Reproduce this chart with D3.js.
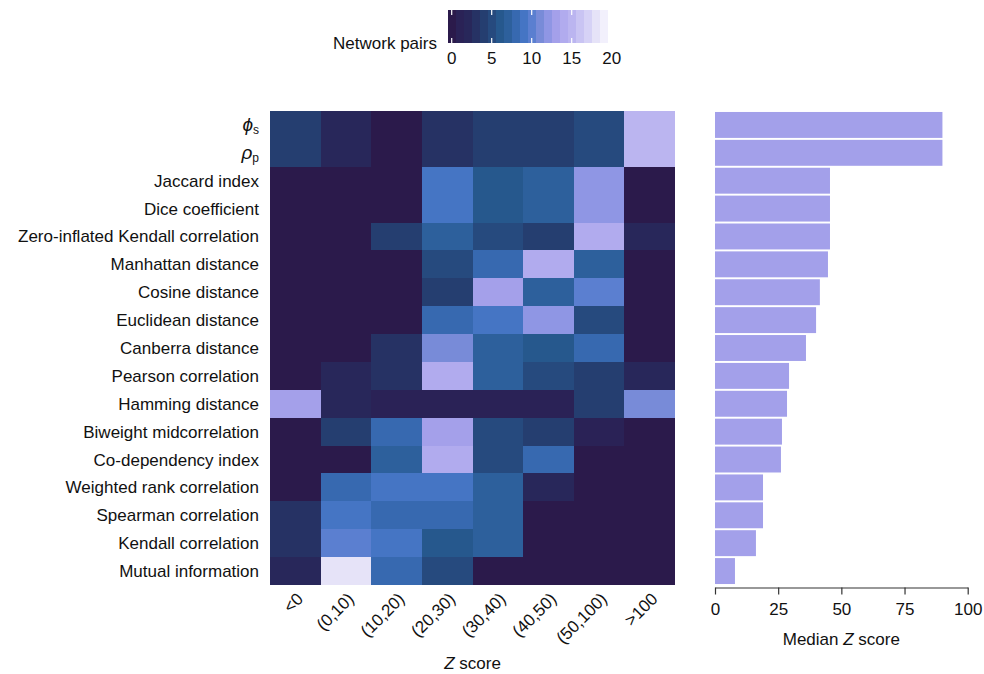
<!DOCTYPE html>
<html>
<head>
<meta charset="utf-8">
<script src="https://cdn.jsdelivr.net/npm/d3@7"></script>
<style>
  html, body { margin: 0; padding: 0; background: #fff; }
  svg { display: block; font-family: "Liberation Sans", Arial, Helvetica, sans-serif; }
</style>
</head>
<body>
<svg id="chart" width="984" height="674"></svg>
<script>
// Similarity measures (rows, top to bottom)
const measures = [
  "phi_s", "rho_p", "Jaccard index", "Dice coefficient",
  "Zero-inflated Kendall correlation", "Manhattan distance", "Cosine distance",
  "Euclidean distance", "Canberra distance", "Pearson correlation",
  "Hamming distance", "Biweight midcorrelation", "Co-dependency index",
  "Weighted rank correlation", "Spearman correlation", "Kendall correlation",
  "Mutual information"
];

// Z score bins (columns)
const zBins = ["<0", "(0,10)", "(10,20)", "(20,30)", "(30,40)", "(40,50)", "(50,100)", ">100"];

// Number of network pairs falling in each Z score bin, one row per measure
const pairCounts = [
  [4, 2, 0, 3, 4, 4, 5, 15],
  [4, 2, 0, 3, 4, 4, 5, 15],
  [0, 0, 0, 9, 6, 7, 12, 0],
  [0, 0, 0, 9, 6, 7, 12, 0],
  [0, 0, 4, 7, 5, 4, 14, 2],
  [0, 0, 0, 5, 8, 14, 7, 0],
  [0, 0, 0, 4, 13, 7, 10, 0],
  [0, 0, 0, 8, 9, 12, 5, 0],
  [0, 0, 3, 11, 7, 6, 8, 0],
  [0, 2, 3, 14, 7, 5, 4, 2],
  [13, 2, 1, 1, 1, 1, 4, 11],
  [0, 4, 8, 13, 5, 4, 1, 0],
  [0, 0, 7, 14, 5, 8, 0, 0],
  [0, 8, 9, 9, 7, 2, 0, 0],
  [3, 9, 8, 8, 7, 0, 0, 0],
  [3, 10, 9, 6, 7, 0, 0, 0],
  [2, 18, 8, 5, 0, 0, 0, 0]
];

// Median Z score per measure
const medianZ = [90, 90, 45.5, 45.5, 45.5, 44.7, 41.5, 40, 36, 29.3, 28.5, 26.5, 26.1, 19, 19, 16.2, 7.9];

// Axis ticks
const legendTicks = [0, 5, 10, 15, 20];
const barTicks = [0, 25, 50, 75, 100];

// Discrete colour ramp, one step per pair count 0..19
const ramp = [
  "#2b1a4b", "#2a2256", "#28275a", "#263264", "#253e70",
  "#264a7e", "#26588d", "#2d609c", "#3769b0", "#4575c4",
  "#5b7fd0", "#788bd8", "#8f96e4", "#a4a0ea", "#b1abee",
  "#bbb5f0", "#c9c4f3", "#d6d2f6", "#e6e3f8", "#f2f0fc"
];
const barColor = "#a3a0ea";

const svg = d3.select("#chart");
const fontSize = 17;
const ink = "#111";

// ---------- Heatmap ----------
const hx = d3.scaleBand().domain(zBins).range([270, 675]);
const hy = d3.scaleBand().domain(measures).range([111, 585]);
const colorOf = v => ramp[Math.max(0, Math.min(ramp.length - 1, Math.round(v)))];

const cells = [];
pairCounts.forEach((row, i) => row.forEach((v, j) => cells.push({ m: measures[i], b: zBins[j], v })));

svg.append("g").attr("shape-rendering", "crispEdges")
  .selectAll("rect").data(cells).join("rect")
  .attr("x", d => Math.round(hx(d.b)))
  .attr("y", d => Math.round(hy(d.m)))
  .attr("width", d => Math.round(hx(d.b) + hx.bandwidth()) - Math.round(hx(d.b)))
  .attr("height", d => Math.round(hy(d.m) + hy.bandwidth()) - Math.round(hy(d.m)))
  .attr("fill", d => colorOf(d.v));

// Row labels
const rowLabels = svg.append("g").attr("font-size", fontSize).attr("fill", ink).attr("text-anchor", "end");
measures.forEach(m => {
  const t = rowLabels.append("text")
    .attr("x", 259)
    .attr("y", hy(m) + hy.bandwidth() / 2 + 6);
  if (m === "phi_s" || m === "rho_p") {
    t.append("tspan").attr("font-style", "italic").attr("font-size", 19)
      .text(m === "phi_s" ? "\u03D5" : "\u03C1");
    t.append("tspan").attr("font-size", 12).attr("dy", 3)
      .text(m === "phi_s" ? "s" : "p");
  } else {
    t.text(m);
  }
});

// Column labels, rotated
const colLabels = svg.append("g").attr("font-size", fontSize).attr("fill", ink);
zBins.forEach(b => {
  colLabels.append("text")
    .attr("transform", `translate(${hx(b) + hx.bandwidth() / 2 + 9},${600}) rotate(-45)`)
    .attr("text-anchor", "end")
    .text(b);
});

// Heatmap x title
const hTitle = svg.append("text")
  .attr("x", (270 + 675) / 2)
  .attr("y", 669)
  .attr("text-anchor", "middle")
  .attr("font-size", fontSize)
  .attr("fill", ink);
hTitle.append("tspan").attr("font-style", "italic").text("Z");
hTitle.append("tspan").text(" score");

// ---------- Legend ----------
const lx = d3.scaleLinear().domain([0, 20]).range([451.7, 611.7]);
const lg = svg.append("g");
lg.append("g").attr("shape-rendering", "crispEdges")
  .selectAll("rect").data(ramp).join("rect")
  .attr("x", (c, i) => lx(i - 0.5))
  .attr("y", 10)
  .attr("width", lx(1) - lx(0) + 0.4)
  .attr("height", 33)
  .attr("fill", c => c);
legendTicks.filter(t => t < ramp.length).forEach(t => {
  lg.append("line").attr("x1", lx(t)).attr("x2", lx(t)).attr("y1", 10).attr("y2", 15)
    .attr("stroke", "#fff").attr("stroke-width", 1.2);
  lg.append("line").attr("x1", lx(t)).attr("x2", lx(t)).attr("y1", 38).attr("y2", 43)
    .attr("stroke", "#fff").attr("stroke-width", 1.2);
});
lg.selectAll("text.tick").data(legendTicks).join("text")
  .attr("class", "tick")
  .attr("x", d => lx(d))
  .attr("y", 64)
  .attr("text-anchor", "middle")
  .attr("font-size", fontSize)
  .attr("fill", ink)
  .text(d => d);
lg.append("text")
  .attr("x", 437)
  .attr("y", 49)
  .attr("text-anchor", "end")
  .attr("font-size", fontSize)
  .attr("fill", ink)
  .text("Network pairs");

// ---------- Bar chart ----------
const bx = d3.scaleLinear().domain([0, 100]).range([715, 967.7]);
const by = d3.scaleBand().domain(measures).range([111, 585]).paddingInner(0.07).paddingOuter(0.035);

svg.append("g").selectAll("rect").data(medianZ).join("rect")
  .attr("x", bx(0))
  .attr("y", (d, i) => by(measures[i]))
  .attr("width", d => bx(d) - bx(0))
  .attr("height", by.bandwidth())
  .attr("fill", barColor);

const axis = svg.append("g")
  .attr("transform", "translate(0,587.5)")
  .call(d3.axisBottom(bx).tickValues(barTicks).tickSize(7).tickSizeOuter(0).tickPadding(8));
axis.select(".domain").attr("stroke", "#333").attr("stroke-width", 1.2);
axis.selectAll(".tick line").attr("stroke", "#333").attr("stroke-width", 1.2);
axis.selectAll(".tick text").attr("font-size", fontSize).attr("fill", ink)
  .attr("font-family", "'Liberation Sans', Arial, Helvetica, sans-serif");

const bTitle = svg.append("text")
  .attr("x", (715 + 967.7) / 2)
  .attr("y", 645)
  .attr("text-anchor", "middle")
  .attr("font-size", fontSize)
  .attr("fill", ink);
bTitle.append("tspan").text("Median ");
bTitle.append("tspan").attr("font-style", "italic").text("Z");
bTitle.append("tspan").text(" score");
</script>
</body>
</html>
